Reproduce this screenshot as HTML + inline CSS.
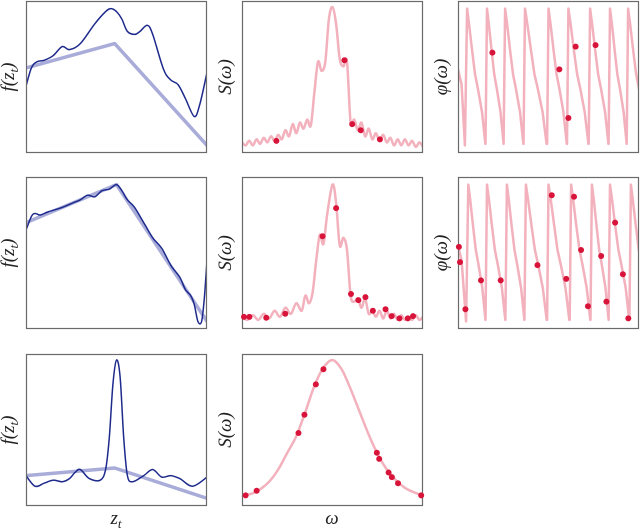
<!DOCTYPE html>
<html><head><meta charset="utf-8"><style>
html,body{margin:0;padding:0;background:#fff;}
svg{display:block;}
text{font-family:"Liberation Serif",serif;font-style:italic;fill:#222;}
</style></head><body>
<svg id="chart" width="640" height="529" viewBox="0 0 640 529" xmlns="http://www.w3.org/2000/svg"></svg>
<script>
// ---- data ----
const f1DarkX=[0,.03,.06,.1,.15,.2,.24,.3,.38,.44,.47,.5,.53,.56,.6,.63,.67,.7,.76,.8,.84,.88,.93,.96,1];
const f1DarkY=[.44,.56,.6,.61,.64,.7,.68,.72,.85,.93,.95,.93,.88,.8,.78,.8,.84,.78,.55,.48,.45,.36,.24,.32,.53];
const f1LightX=[0,.49,1];
const f1LightY=[.56,.72,.05];
const f2DarkX=[0,.03,.05,.08,.12,.2,.26,.3,.34,.38,.42,.46,.5,.53,.56,.6,.66,.7,.75,.8,.85,.88,.91,.93,.95,.97,.985,1];
const f2DarkY=[.65,.74,.76,.75,.77,.8,.83,.85,.88,.87,.91,.92,.95,.91,.85,.8,.68,.6,.53,.42,.34,.26,.22,.16,.05,.05,.2,.45];
const f2LightX=[0,.5,1];
const f2LightY=[.7,.95,.05];
const f3DarkX=[0,.05,.1,.15,.2,.24,.27,.3,.35,.41,.44,.46,.48,.5,.52,.54,.56,.59,.65,.7,.75,.8,.85,.92,1];
const f3DarkY=[.2,.13,.15,.17,.16,.18,.22,.24,.18,.17,.24,.45,.8,.96,.85,.45,.2,.16,.2,.24,.19,.2,.18,.13,.19];
const f3LightX=[0,.49,1];
const f3LightY=[.2,.25,.05];
const s1X=[0,.02,.04,.06,.08,.1,.12,.14,.16,.18,.2,.22,.24,.26,.28,.3,.32,.34,.36,.38,.4,.42,.44,.46,.48,.5,.52,.54,.56,.58,.6,.62,.64,.66,.68,.7,.72,.74,.76,.78,.8,.82,.84,.86,.88,.9,.92,.94,.96,.98,1];
const s1Y=[.07,.05,.08,.05,.09,.06,.1,.07,.11,.08,.12,.09,.15,.11,.19,.13,.2,.16,.22,.18,.4,.6,.54,.6,.88,.96,.85,.62,.57,.6,.2,.22,.15,.2,.11,.16,.09,.13,.08,.12,.07,.1,.05,.09,.05,.09,.05,.08,.04,.07,.04];
const s1DotX=[.19,.566,.609,.656,.762];
const s1DotY=[.08,.61,.19,.15,.09];
const s2X=[0,.03,.06,.09,.12,.15,.18,.21,.24,.27,.3,.33,.35,.37,.39,.41,.43,.45,.47,.5,.52,.54,.56,.58,.6,.62,.64,.66,.68,.7,.72,.74,.76,.78,.8,.82,.84,.86,.88,.9,.92,.94,.96,.98,1];
const s2Y=[.08,.06,.09,.06,.1,.07,.12,.08,.14,.1,.17,.12,.22,.17,.24,.45,.62,.56,.75,.95,.83,.55,.6,.52,.22,.18,.2,.14,.2,.1,.12,.08,.12,.07,.12,.07,.1,.06,.09,.06,.08,.06,.09,.06,.08];
const s2DotX=[.011,.041,.134,.239,.445,.52,.602,.643,.682,.723,.793,.827,.87,.916,.945];
const s2DotY=[.08,.08,.074,.1,.61,.795,.23,.19,.21,.12,.13,.085,.07,.07,.085];
const s3X=[0,.05,.1,.15,.2,.25,.3,.35,.4,.45,.5,.55,.6,.65,.7,.75,.8,.85,.9,.95,1];
const s3Y=[.07,.08,.11,.16,.24,.35,.46,.62,.79,.91,.96,.9,.77,.62,.47,.34,.24,.17,.12,.09,.07];
const s3DotX=[.02,.081,.312,.345,.408,.45,.745,.758,.81,.828,.862,.99];
const s3DotY=[.07,.1,.48,.6,.8,.9,.35,.31,.22,.19,.15,.07];
const p1Peaks=[.05,.16,.26,.37,.5,.61,.73,.84,.94];
const p1DotX=[.19,.56,.61,.65,.76];
const p1DotY=[.66,.55,.23,.70,.71];
const p2Peaks=[.057,.16,.27,.375,.5,.625,.74,.84,.955];
const p2DotX=[.005,.011,.041,.127,.236,.439,.518,.598,.641,.68,.718,.791,.82,.868,.911,.941];
const p2DotY=[.54,.44,.13,.32,.32,.42,.88,.33,.87,.52,.15,.48,.18,.70,.36,.07];

const NS="http://www.w3.org/2000/svg";
const svg=document.getElementById('chart');
const cols=[[26,207],[242,423],[458,639]];
const rows=[[1,153],[177,329],[354,506]];
function mk(tag,attrs,parent){const e=document.createElementNS(NS,tag);for(const k in attrs)e.setAttribute(k,attrs[k]);(parent||svg).appendChild(e);return e;}
function panel(r,c,name){
  const g=mk('g',{});
  
  
  const [x0,x1]=cols[c],[y0,y1]=rows[r];
  const P={g,sx:v=>x0+v*(x1-x0),sy:v=>y1-v*(y1-y0),x0,x1,y0,y1};
  const clip='clip'+r+c;
  const cp=mk('clipPath',{id:clip},g);mk('rect',{x:x0,y:y0,width:x1-x0,height:y1-y0},cp);
  P.inner=mk('g',{'clip-path':'url(#'+clip+')'},g);
  return P;
}
function frame(P){const b=mk('rect',{x:P.x0+.5,y:P.y0+.5,width:P.x1-P.x0-1,height:P.y1-P.y0-1,fill:'none',stroke:'#6a6a6a','stroke-width':1.2},P.g);
  
  }
function smoothPath(P,xs,ys){
  const pts=xs.map((x,i)=>[P.sx(x),P.sy(ys[i])]);
  let d='M'+pts[0][0].toFixed(1)+','+pts[0][1].toFixed(1);
  for(let i=0;i<pts.length-1;i++){
    const p0=pts[i-1]||pts[i],p1=pts[i],p2=pts[i+1],p3=pts[i+2]||p2;
    const c1=[p1[0]+(p2[0]-p0[0])/6,p1[1]+(p2[1]-p0[1])/6],c2=[p2[0]-(p3[0]-p1[0])/6,p2[1]-(p3[1]-p1[1])/6];
    d+='C'+c1.map(v=>v.toFixed(1))+' '+c2.map(v=>v.toFixed(1))+' '+p2.map(v=>v.toFixed(1));
  }
  return d;
}
function line(P,xs,ys,color,w,name,smooth){
  let d;
  if(smooth)d=smoothPath(P,xs,ys);
  else d='M'+xs.map((x,i)=>P.sx(x).toFixed(1)+','+P.sy(ys[i]).toFixed(1)).join('L');
  const e=mk('path',{d,fill:'none',stroke:color,'stroke-width':w,'stroke-linejoin':'round','stroke-linecap':'round'},P.inner);
  
  
}
function dots(P,xs,ys,name){
  xs.forEach((x,i)=>{const e=mk('circle',{cx:P.sx(x),cy:P.sy(ys[i]),r:3,fill:'#d8143a'},P.g);
    
    });
}
function phase(P,peaks,name){
  const xs=[0,.02],ys=[.55,.45];
  xs.push(peaks[0]-.012);ys.push(.05);
  peaks.forEach((p,i)=>{
    const n=i<peaks.length-1?peaks[i+1]:p+.11;
    const w=n-p;
    xs.push(p,p+.1*w,p+.25*w,p+.4*w,p+.55*w,p+.75*w,p+.92*w);
    ys.push(.95,.85,.68,.52,.42,.27,.06);
    if(i<peaks.length-1){xs.push(n-.008);ys.push(.06);}
  });
  line(P,xs,ys,'#f2b1bc',2.5,name,false);
}
function ylabel(x,y,html,name){
  const t=mk('text',{x:0,y:0,transform:`translate(${x},${y}) rotate(-90)`,'text-anchor':'middle','font-size':19});
  t.innerHTML=html;
  
  
}
const LIGHT='#a9acd9',DARK='#1d2a8c',PINK='#f2b1bc';
// row 1
let P=panel(0,0,'panel-f-row1');line(P,f1LightX,f1LightY,LIGHT,3.5,'prior-line',false);line(P,f1DarkX,f1DarkY,DARK,1.5,'function-curve',true);frame(P);
P=panel(0,1,'panel-s-row1');line(P,s1X,s1Y,PINK,2.5,'spectrum-curve',true);frame(P);dots(P,s1DotX,s1DotY,'spectrum-point');
P=panel(0,2,'panel-phi-row1');phase(P,p1Peaks,'phase-curve');frame(P);dots(P,p1DotX,p1DotY,'phase-point');
// row 2
P=panel(1,0,'panel-f-row2');line(P,f2LightX,f2LightY,LIGHT,3.5,'prior-line',false);line(P,f2DarkX,f2DarkY,DARK,1.5,'function-curve',true);frame(P);
P=panel(1,1,'panel-s-row2');line(P,s2X,s2Y,PINK,2.5,'spectrum-curve',true);frame(P);dots(P,s2DotX,s2DotY,'spectrum-point');
P=panel(1,2,'panel-phi-row2');phase(P,p2Peaks,'phase-curve');frame(P);dots(P,p2DotX,p2DotY,'phase-point');
// row 3
P=panel(2,0,'panel-f-row3');line(P,f3LightX,f3LightY,LIGHT,3.5,'prior-line',false);line(P,f3DarkX,f3DarkY,DARK,1.5,'function-curve',true);frame(P);
P=panel(2,1,'panel-s-row3');line(P,s3X,s3Y,PINK,2.5,'spectrum-curve',true);frame(P);dots(P,s3DotX,s3DotY,'spectrum-point');
// labels
[77,253,430].forEach((y,i)=>{
  ylabel(14,y,'f(z<tspan font-size="13" dy="4">t</tspan><tspan dy="-4">)</tspan>','y-label-f');
  ylabel(231,y,'S(ω)','y-label-s');
  if(i<2)ylabel(447,y,'φ(ω)','y-label-phi');
});
let t=mk('text',{x:116,y:524,'text-anchor':'middle','font-size':19});t.innerHTML='z<tspan font-size="13" dy="4">t</tspan>';


t=mk('text',{x:332,y:524,'text-anchor':'middle','font-size':19});t.textContent='ω';


</script>
</body></html>
